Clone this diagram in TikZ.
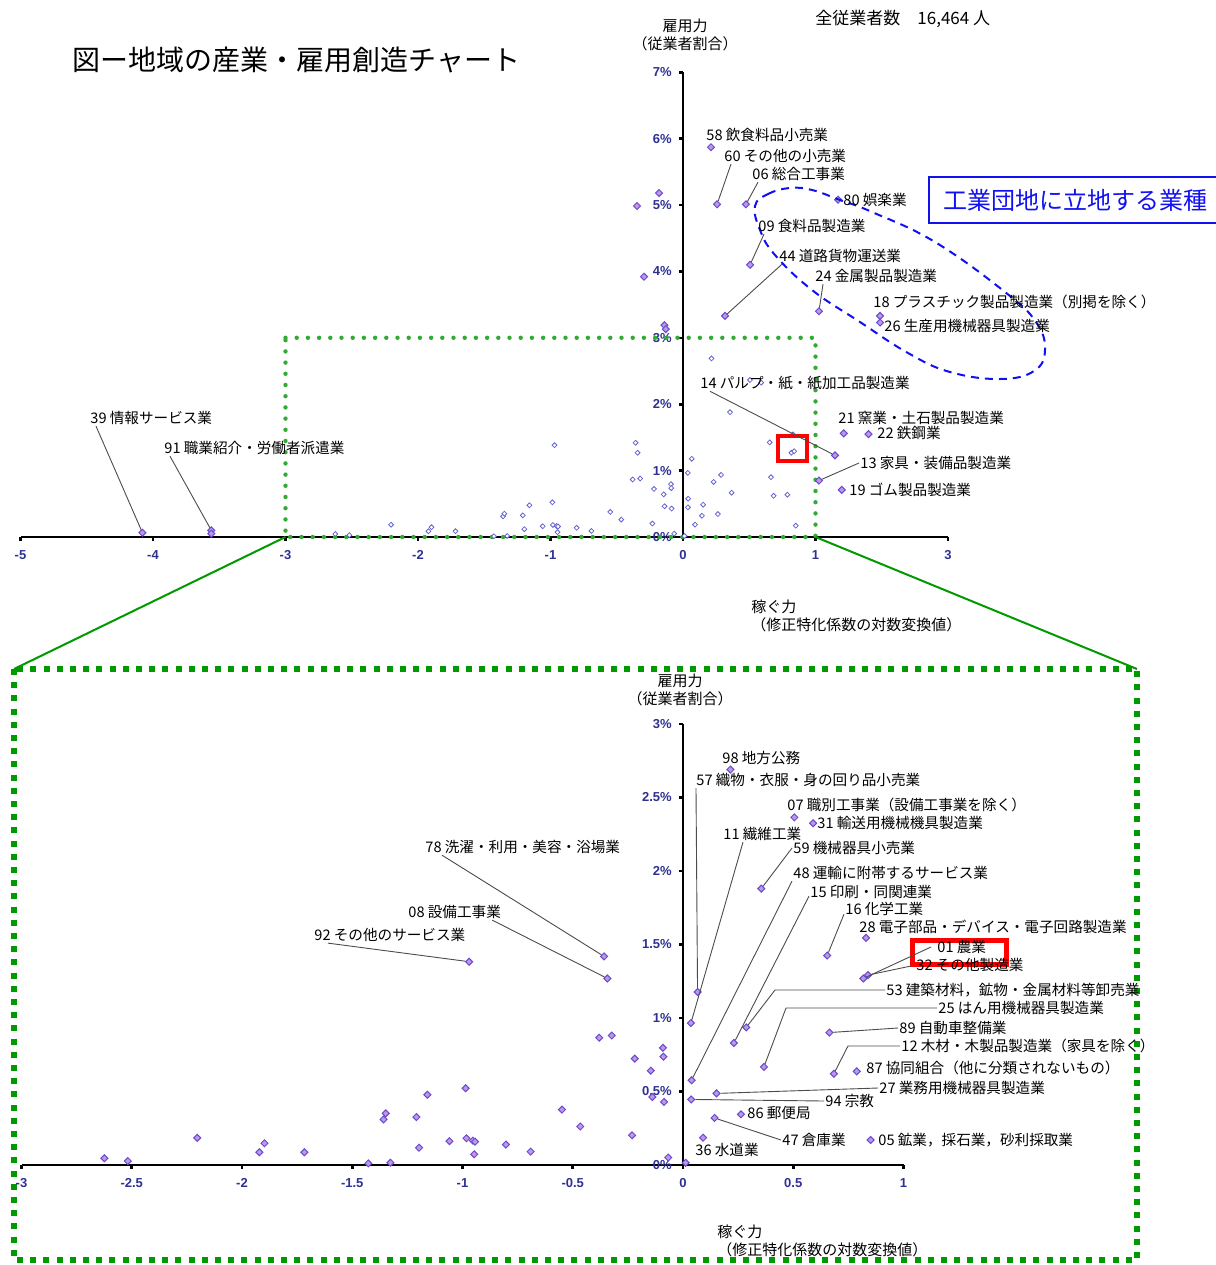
\documentclass[tikz,border=0pt]{standalone}
\usepackage{fontspec}
\usepackage{tikz}
\usetikzlibrary{shapes.geometric, calc, positioning}
\setsansfont{Liberation Sans}
\newfontfamily\jfont{Noto Sans CJK JP}
\definecolor{dmfill}{HTML}{CC90E6}
\definecolor{dmline}{HTML}{5E50CF}
\definecolor{holline}{HTML}{6464D2}
\definecolor{ticktext}{HTML}{2E3192}
\definecolor{dotgreen}{HTML}{33AA33}
\definecolor{sqgreen}{HTML}{009900}
\definecolor{areablue}{HTML}{1010F0}
\definecolor{markred}{HTML}{FF0000}

% industries inside the zoomed window: name/log-LQ/share
\newcommand\zoomdata{a1/-2.624/0.046, a2/-2.518/0.027, a3/-2.203/0.185, a4/-1.921/0.087,
  a5/-1.898/0.148, a6/-1.717/0.087, a7/-1.427/0.011, a8/-1.327/0.016, a9/-1.358/0.31,
  a10/-1.348/0.351, a11/-1.209/0.326, a12/-1.197/0.118, a13/-1.159/0.478, a14/-1.059/0.162,
  a15/-0.986/0.522, a16/-0.982/0.182, a17/-0.953/0.166, a18/-0.943/0.159, a19/-0.947/0.073,
  92/-0.970/1.383, a21/-0.803/0.139, a22/-0.691/0.091, a23/-0.549/0.377, a24/-0.466/0.262,
  78/-0.358/1.419, 08/-0.343/1.269, a27/-0.380/0.866, a28/-0.323/0.881, a29/-0.219/0.724,
  a30/-0.146/0.642, a31/-0.091/0.797, a32/-0.089/0.737, a33/-0.139/0.463, a34/-0.086/0.429,
  a35/-0.231/0.202, a36/-0.067/0.051, a37/0.012/0.015, 57/0.066/1.177, 11/0.036/0.966,
  15/0.231/0.830, 53/0.287/0.936, 48/0.039/0.577, 94/0.037/0.446, 25/0.367/0.667,
  89/0.664/0.901, 12/0.684/0.621, 87/0.788/0.637, 27/0.152/0.487, 86/0.263/0.345,
  47/0.143/0.320, 36/0.091/0.186, 05/0.851/0.170, 28/0.830/1.545, 16/0.654/1.425,
  01/0.818/1.269, 32/0.839/1.292, 98/0.215/2.690, 07/0.505/2.365, 31/0.590/2.325,
  59/0.355/1.880}
% industries outside the zoomed window
\newcommand\outerdata{58/0.211/5.87, 60/0.257/5.01, 06/0.475/5.01, 80/1.170/5.08,
  09/0.506/4.10, 44/0.317/3.33, 24/1.026/3.40, 18/1.487/3.33, 26/1.487/3.23,
  14/1.147/1.23, 21/1.213/1.56, 22/1.400/1.55, 13/1.026/0.85, 19/1.198/0.71,
  39/-4.08/0.065, 91/-3.56/0.10, c1/-3.56/0.05, c2/-0.347/4.985, c3/-0.181/5.18,
  c4/-0.294/3.92, c5/-0.14/3.19, c6/-0.13/3.13}

\begin{document}
\begin{tikzpicture}[x=0.5pt, y=-0.5pt,
    lbl/.style={font=\jfont\fontsize{7.3}{9}\selectfont, inner sep=0.5pt, anchor=west},
    axtitle/.style={font=\jfont\fontsize{7.5}{9}\selectfont, inner sep=0pt},
    ticklbl/.style={font=\sffamily\bfseries\fontsize{6.5}{7}\selectfont, text=ticktext, inner sep=0pt},
    tickmark/.style={line width=1.3pt},
    axisline/.style={line width=1pt},
    dia/.style={diamond, aspect=1, minimum size=3.7pt, inner sep=0pt, draw=dmline, fill=dmfill, line width=0.5pt},
    hol/.style={diamond, aspect=1, minimum size=2.6pt, inner sep=0pt, draw=holline, fill=white, line width=0.4pt},
    leader/.style={draw=black!70, line width=0.45pt},
    dotbox/.style={draw=dotgreen, line width=2.2pt, line cap=round, dash pattern=on 0pt off 5.6pt},
    sqbox/.style={draw=sqgreen, line width=3pt, dash pattern=on 3pt off 3.6pt},
    zoomline/.style={draw=sqgreen, line width=1pt},
    arealine/.style={draw=areablue, line width=1pt, dash pattern=on 4pt off 3pt},
    markbox/.style={draw=markred, line width=#1}]
  \useasboundingbox (0,0) rectangle (1216,1265);

  \node[anchor=west, inner sep=0pt, font=\jfont\fontsize{14}{17}\selectfont] (title) at (72,60) {図ー地域の産業・雇用創造チャート};
  \node[anchor=west, inner sep=0pt, font=\jfont\fontsize{8.5}{10}\selectfont] (total) at (815,19) {全従業者数　16,464 人};

  % whole chart
  \begin{scope}[shift={(683,537)}, x=66.25pt, y=33.2pt]
    \draw[axisline] (-5,0) -- (2,0);
    \draw[axisline] (0,0) -- (0,7);
    \foreach \vx/\lab in {-5/-5,-4/-4,-3/-3,-2/-2,-1/-1,0/0,1/1,2/3}
      \draw[tickmark] (\vx,0) -- ++(0pt,-2pt) node[ticklbl, below=4pt] {\lab};
    \foreach \py in {0,...,7}
      \draw[tickmark] (0,\py) -- ++(-2pt,0pt) node[ticklbl, left=3pt] {\py\%};
    \draw[dotbox] (-3,3) -- (1,3) -- (1,0) -- (-3,0) -- cycle;
    \coordinate (zl) at (-3,0);
    \coordinate (zr) at (1,0);
    \foreach \nm/\vx/\py in \zoomdata \node[hol] (t\nm) at (\vx,\py) {};
    \foreach \nm/\vx/\py in \outerdata \node[dia] (t\nm) at (\vx,\py) {};
  \end{scope}

  \node[axtitle, align=center] (ytop) at (685,35) {雇用力\\（従業者割合）};
  \node[axtitle, align=left, anchor=west] (xtop) at (751,616) {稼ぐ力\\（修正特化係数の対数変換値）};

  \draw[arealine] plot[smooth cycle, tension=0.7] coordinates {(755,206) (768,194) (790,188)
    (812,190) (840,200) (872,212) (935,242) (1005,292) (1036,322) (1045,350) (1034,371)
    (1000,379) (950,372) (908,353) (860,322) (812,290) (775,255) (760,230)};
  \node[draw=areablue, line width=1.2pt, text=areablue, font=\jfont\fontsize{12}{14}\selectfont,
    inner xsep=7pt, minimum height=23pt, text width=140pt, align=left, anchor=west] (area) at (928,200) {工業団地に立地する業種};
  \draw[markbox=2pt] (778,436) rectangle (807,461);

  \node[lbl] (L58) at (705,135) {58 飲食料品小売業};
  \node[lbl] (L60) at (723,156) {60 その他の小売業};
  \node[lbl] (L06) at (751,174) {06 総合工事業};
  \node[lbl] (L80) at (842,200) {80 娯楽業};
  \node[lbl] (L09) at (757,226) {09 食料品製造業};
  \node[lbl] (L44) at (778,256) {44 道路貨物運送業};
  \node[lbl] (L24) at (814,276) {24 金属製品製造業};
  \node[lbl] (L18) at (872,302) {18 プラスチック製品製造業（別掲を除く）};
  \node[lbl] (L26) at (883,326) {26 生産用機械器具製造業};
  \node[lbl] (L14) at (699,383) {14 パルプ・紙・紙加工品製造業};
  \node[lbl] (L21) at (837,418) {21 窯業・土石製品製造業};
  \node[lbl] (L22) at (876,433) {22 鉄鋼業};
  \node[lbl] (L13) at (859,463) {13 家具・装備品製造業};
  \node[lbl] (L19) at (848,490) {19 ゴム製品製造業};
  \node[lbl] (L39) at (89,418) {39 情報サービス業};
  \node[lbl] (L91) at (163,448) {91 職業紹介・労働者派遣業};

  \draw[leader] (t60) -- ($(L60.south west)+(8,0)$);
  \draw[leader] (t06) -- ($(L06.south west)+(7,0)$);
  \draw[leader] (t09) -- ($(L09.south west)+(7,0)$);
  \draw[leader] (t44) -- ($(L44.south west)+(4,0)$);
  \draw[leader] (t24) -- ($(L24.south west)+(9,0)$);
  \draw[leader] (t14) -- ($(L14.south west)+(11,0)$);
  \draw[leader] (t13) -- (L13.west);
  \draw[leader] (t39) -- ($(L39.south west)+(7,0)$);
  \draw[leader] (t91) -- ($(L91.south west)+(7,0)$);

  % zoomed window
  \coordinate (bl) at (14,669);
  \coordinate (br) at (1137,669);
  \draw[zoomline] (zl) -- (bl);
  \draw[zoomline] (zr) -- (br);
  \draw[sqbox] (bl) rectangle (1137,1260);

  \begin{scope}[shift={(683,1165)}, x=110.25pt, y=73.5pt]
    \draw[axisline] (-3,0) -- (1,0);
    \draw[axisline] (0,0) -- (0,3);
    \foreach \vx in {-3,-2.5,-2,-1.5,-1,-0.5,0,0.5,1}
      \draw[tickmark] (\vx,0) -- ++(0pt,-2pt) node[ticklbl, below=4pt] {\vx};
    \foreach \py in {0,0.5,1,1.5,2,2.5,3}
      \draw[tickmark] (0,\py) -- ++(-2pt,0pt) node[ticklbl, left=3pt] {\py\%};
    \foreach \nm/\vx/\py in \zoomdata \node[dia] (b\nm) at (\vx,\py) {};
  \end{scope}

  \node[axtitle, align=center] (ybot) at (680,690) {雇用力\\（従業者割合）};
  \node[axtitle, align=left, anchor=west] (xbot) at (717,1241) {稼ぐ力\\（修正特化係数の対数変換値）};
  \draw[markbox=2.5pt] (912,940) rectangle (1006,964);

  \node[lbl] (L98) at (721,758) {98 地方公務};
  \node[lbl] (L57) at (695,780) {57 織物・衣服・身の回り品小売業};
  \node[lbl] (L07) at (786,805) {07 職別工事業（設備工事業を除く）};
  \node[lbl] (L31) at (816,823) {31 輸送用機械機具製造業};
  \node[lbl] (L11) at (722,834) {11 繊維工業};
  \node[lbl] (L59) at (792,848) {59 機械器具小売業};
  \node[lbl] (L48) at (792,873) {48 運輸に附帯するサービス業};
  \node[lbl] (L15) at (809,892) {15 印刷・同関連業};
  \node[lbl] (L16) at (844,909) {16 化学工業};
  \node[lbl] (L28) at (858,927) {28 電子部品・デバイス・電子回路製造業};
  \node[lbl] (L01) at (936,947) {01 農業};
  \node[lbl] (L32) at (915,965) {32 その他製造業};
  \node[lbl] (L53) at (885,990) {53 建築材料，鉱物・金属材料等卸売業};
  \node[lbl] (L25) at (937,1008) {25 はん用機械器具製造業};
  \node[lbl] (L89) at (898,1028) {89 自動車整備業};
  \node[lbl] (L12) at (900,1046) {12 木材・木製品製造業（家具を除く）};
  \node[lbl] (L87) at (865,1068) {87 協同組合（他に分類されないもの）};
  \node[lbl] (L27) at (878,1088) {27 業務用機械器具製造業};
  \node[lbl] (L94) at (824,1101) {94 宗教};
  \node[lbl] (L86) at (746,1113) {86 郵便局};
  \node[lbl] (L47) at (781,1140) {47 倉庫業};
  \node[lbl] (L36) at (694,1150) {36 水道業};
  \node[lbl] (L05) at (877,1140) {05 鉱業，採石業，砂利採取業};
  \node[lbl] (L78) at (424,847) {78 洗濯・利用・美容・浴場業};
  \node[lbl] (L08) at (407,912) {08 設備工事業};
  \node[lbl] (L92) at (313,935) {92 その他のサービス業};

  \draw[leader] (b57) -- ($(L57.south west)+(1,0)$);
  \draw[leader] (b11) -- ($(L11.south west)+(21,0)$);
  \draw[leader] (b59) -- (L59.west);
  \draw[leader] (b48) -- (L48.south west);
  \draw[leader] (b15) -- ($(L15.south west)+(0,-4)$);
  \draw[leader] (b16) -- ($(L16.south west)+(0,-3)$);
  \draw[leader] (b01) -- ($(L01.west)+(-5,0)$);
  \draw[leader] (b32) -- ($(L32.west)+(-4,1)$);
  \draw[leader] (L53.west) -- ++(-110,0) -- (b53);
  \draw[leader] (L25.west) -- ++(-151,0) -- (b25);
  \draw[leader] (b89) -- (L89.west);
  \draw[leader] (L12.west) -- ++(-52,0) -- (b12);
  \draw[leader] (b27) -- (L27.west);
  \draw[leader] (b94) -- (L94.west);
  \draw[leader] (b47) -- (L47.west);
  \draw[leader] (b78) -- ($(L78.south west)+(18,0)$);
  \draw[leader] (b08) -- ($(L08.south east)+(-10,0)$);
  \draw[leader] (b92) -- ($(L92.south west)+(15,0)$);
\end{tikzpicture}
\end{document}
